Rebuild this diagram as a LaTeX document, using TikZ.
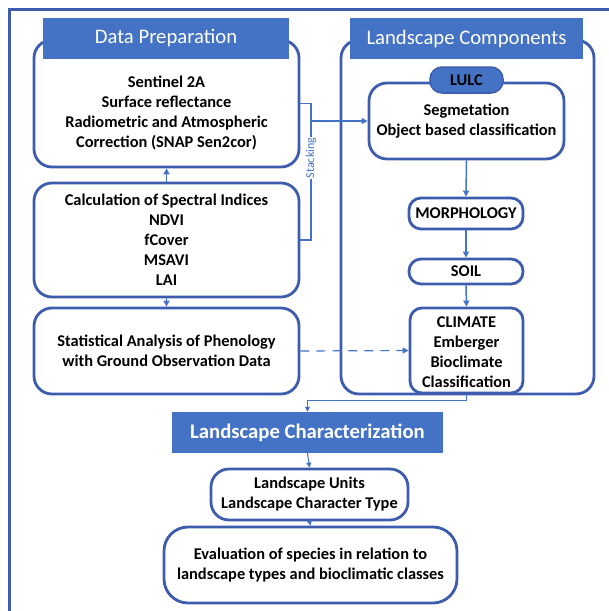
\documentclass[tikz,border=0pt]{standalone}
\usepackage{fontspec}
\setmainfont{Carlito}
\usetikzlibrary{arrows.meta}
\definecolor{hdr}{HTML}{4472C4}
\definecolor{bdr}{HTML}{3D5CAD}
\tikzset{
  txt/.style={align=center, inner sep=0pt, font=\bfseries\fontsize{16.4}{20}\selectfont},
  box/.style={txt, draw=bdr, line width=2.8pt, rounded corners=18pt, fill=white},
  smallbox/.style={box, rounded corners=12pt},
  hdrbox/.style={fill=hdr, text=white, inner sep=0pt, align=center, font=\fontsize{20.7}{24}\selectfont},
  conn/.style={draw=hdr, line width=1.5pt},
  arr/.style={conn, -{Triangle[length=6pt,width=6pt]}},
}
\begin{document}
\begin{tikzpicture}[x=1pt,y=-1pt]
\useasboundingbox (0,0) rectangle (609,611);
% outer frame
\draw[bdr, line width=3pt] (9.5,611) -- (9.5,9.5) -- (609,9.5);

% left column
\node[box, minimum width=265pt, minimum height=127pt] (box1) at (166.5,103.5) {};
\node[txt] (box1t) at (166.5,113) {Sentinel 2A\\Surface reflectance\\Radiometric and Atmospheric\\Correction (SNAP Sen2cor)};
\node[box, minimum width=265pt, minimum height=114pt] (box2) at (166.5,240) {Calculation of Spectral Indices\\NDVI\\fCover\\MSAVI\\LAI};
\node[box, minimum width=265pt, minimum height=86pt] (box3) at (166.5,351) {Statistical Analysis of Phenology\\with Ground Observation Data};
\node[hdrbox, minimum width=246pt, minimum height=41pt] (hdp) at (166,38.5) {Data Preparation};

% right container
\node[box, minimum width=253pt, minimum height=354pt] (cont) at (467.5,217) {};
\node[hdrbox, minimum width=233pt, minimum height=41pt] (hlc) at (466.5,38.5) {Landscape Components};
\node[box, minimum width=195pt, minimum height=76pt] (lulc) at (466.5,121) {Segmetation\\Object based classification};
\node[txt, draw=bdr, fill=hdr, line width=1.5pt, rounded corners=12pt, minimum width=73pt, minimum height=26pt] (tab) at (466.5,80) {LULC};
\node[smallbox, minimum width=114pt, minimum height=31pt] (morph) at (466,213.5) {MORPHOLOGY};
\node[smallbox, minimum width=114pt, minimum height=25pt] (soil) at (466,271.5) {SOIL};
\node[smallbox, minimum width=113pt, minimum height=85pt] (clim) at (466.5,350.5) {};
\node[txt] (climt) at (466.5,352.5) {CLIMATE\\Emberger\\Bioclimate\\Classification};

% bottom
\node[hdrbox, minimum width=271pt, minimum height=41pt, font=\bfseries\fontsize{20.7}{24}\selectfont] (lchar) at (307.5,432.5) {Landscape Characterization};
\node[box, minimum width=197pt, minimum height=51pt] (lu) at (309.5,494.5) {Landscape Units\\Landscape Character Type};
\node[box, rounded corners=24pt, minimum width=293pt, minimum height=76pt] (ev) at (310.5,565) {Evaluation of species in relation to\\landscape types and bioclimatic classes};

% connectors
\draw[arr] (box2.north) -- (box1.south);
\draw[arr] (box2.south) -- (box3.north);
\coordinate (s2) at (311,240);
\coordinate (s3) at (311,121);
\draw[conn] (box1.east) -| (s2) -- (box2.east);
\draw[arr] (s3) -- (lulc.west);
\node[fill=white, text=hdr, rotate=90, inner sep=1pt, font=\fontsize{12}{14}\selectfont] (stk) at (311,158) {Stacking};
\draw[arr] (lulc.south) -- (morph.north);
\draw[arr] (morph.south) -- (soil.north);
\draw[arr] (soil.south) -- (clim.north);
\draw[arr, dashed, dash pattern=on 9pt off 7pt, line width=1.2pt] (box3.east) -- (clim.west);
\coordinate (c1) at (466.5,400);
\draw[conn, line width=1pt, -{Triangle[length=5pt,width=5pt]}] (clim.south) -- (c1) -| (lchar.north);
\draw[conn, line width=1pt, -{Triangle[length=5pt,width=5pt]}] (lchar.south) -- (lu.north);
\draw[conn, line width=1pt, -{Triangle[length=5pt,width=5pt]}] (lu.south) -- (ev.north);
\end{tikzpicture}
\end{document}
